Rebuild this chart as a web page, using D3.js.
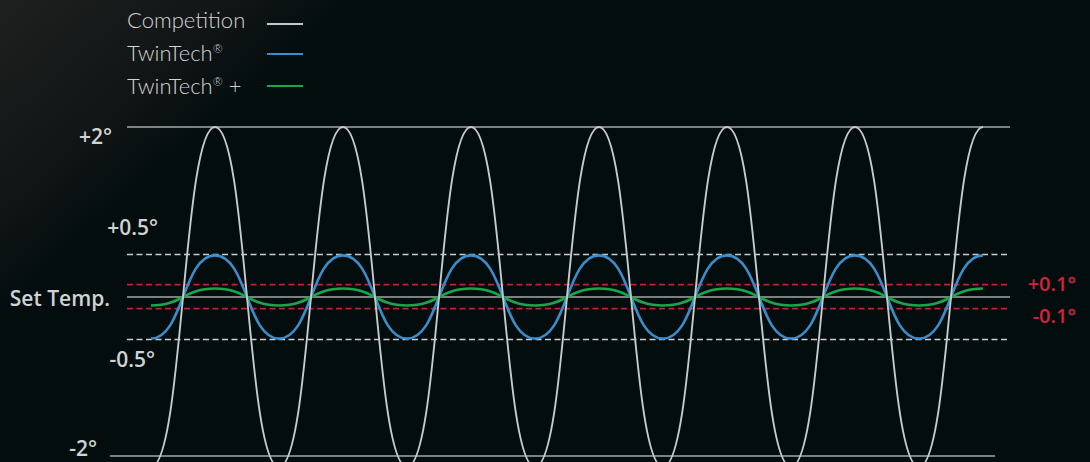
<!DOCTYPE html>
<html>
<head>
<meta charset="utf-8">
<script src="https://cdn.jsdelivr.net/npm/d3@7"></script>
<style>
  html, body { margin: 0; padding: 0; background: #030d0e; }
  svg { display: block; }
</style>
</head>
<body>
<svg id="chart" width="1090" height="462"></svg>
<script>
// time in cycles, one point per extreme (trough / peak)
const times = [0, 0.5, 1, 1.5, 2, 2.5, 3, 3.5, 4, 4.5, 5, 5.5, 6, 6.5]
const competition = [-2, 2, -2, 2, -2, 2, -2, 2, -2, 2, -2, 2, -2, 2]
const twinTech = [-0.49, 0.49, -0.49, 0.49, -0.49, 0.49, -0.49, 0.49, -0.49, 0.49, -0.49, 0.49, -0.49, 0.49]
const twinTechPlus = [-0.1, 0.1, -0.1, 0.1, -0.1, 0.1, -0.1, 0.1, -0.1, 0.1, -0.1, 0.1, -0.1, 0.1]

const seriesNames = ['Competition', 'TwinTech®', 'TwinTech® +']

// guide lines, values
const guideValues = [2, 0.5, 0.146, 0, -0.137, -0.5, -1.87]
const guideKinds = ['solid', 'dash', 'red', 'solid', 'red', 'dash', 'bottom']
const axisLabels = ['+2°', '+0.5°', 'Set Temp.', '-0.5°', '-2°']
const redLabels = ['+0.1°', '-0.1°']

const width = 1090
const height = 462
const plotLeft = 127
const plotRight = 1010

const svg = d3.select('#chart')

// soft glow in the top-left corner
const defs = svg.append('defs')
const grad = defs.append('linearGradient')
  .attr('id', 'glow')
  .attr('gradientUnits', 'userSpaceOnUse')
  .attr('x1', 0).attr('y1', 0)
  .attr('x2', 160).attr('y2', 180)
grad.append('stop').attr('offset', 0).attr('stop-color', '#1e2020')
grad.append('stop').attr('offset', 0.6).attr('stop-color', '#131616')
grad.append('stop').attr('offset', 1).attr('stop-color', '#030d0e')

svg.append('rect')
  .attr('width', width).attr('height', height)
  .attr('fill', 'url(#glow)')

const x = d3.scaleLinear([0, 6.5], [151, 983])
const y = d3.scaleLinear([-2, 2], [467, 127])

// guides
const guideStyle = {
  solid: {stroke: '#a4a9a9', dash: null},
  bottom: {stroke: '#a4a9a9', dash: null},
  dash: {stroke: '#c9cdcd', dash: '6,3.5'},
  red: {stroke: '#c41f3b', dash: '6,3.5'}
}
svg.append('g')
  .selectAll('line')
  .data(guideValues)
  .join('line')
  .attr('x1', (d, i) => guideKinds[i] === 'bottom' ? plotLeft - 17 : plotLeft)
  .attr('x2', (d, i) => guideKinds[i] === 'bottom' ? plotRight - 15 : plotRight)
  .attr('y1', d => y(d))
  .attr('y2', d => y(d))
  .attr('stroke', (d, i) => guideStyle[guideKinds[i]].stroke)
  .attr('stroke-width', 1.6)
  .attr('stroke-dasharray', (d, i) => guideStyle[guideKinds[i]].dash)

// curves
const line = d3.line()
  .x((d, i) => x(times[i]))
  .y(d => y(d))
  .curve(d3.curveBumpX)

svg.append('path')
  .attr('d', line(twinTech))
  .attr('fill', 'none')
  .attr('stroke', '#3b8dcb')
  .attr('stroke-width', 2.6)

svg.append('path')
  .attr('d', line(twinTechPlus))
  .attr('fill', 'none')
  .attr('stroke', '#17a64b')
  .attr('stroke-width', 2.6)

svg.append('path')
  .attr('d', line(competition))
  .attr('fill', 'none')
  .attr('stroke', '#c6caca')
  .attr('stroke-width', 1.9)

// left labels
const labelPos = [
  {x: 112, v: 2, dy: 17},
  {x: 158, v: 0.5, dy: -20},
  {x: 110, v: 0, dy: 9},
  {x: 155, v: -0.5, dy: 27},
  {x: 97, v: -1.87, dy: 0}
]
svg.append('g')
  .selectAll('text')
  .data(axisLabels)
  .join('text')
  .attr('x', (d, i) => labelPos[i].x)
  .attr('y', (d, i) => y(labelPos[i].v) + labelPos[i].dy)
  .attr('text-anchor', 'end')
  .attr('font-family', '"Open Sans", sans-serif')
  .attr('font-weight', 600)
  .attr('font-size', 21)
  .attr('fill', '#cfd3d3')
  .text(d => d)

// right red labels
svg.append('g')
  .selectAll('text')
  .data(redLabels)
  .join('text')
  .attr('x', 1076)
  .attr('y', (d, i) => i === 0 ? y(guideValues[2]) + 6 : y(guideValues[4]) + 14)
  .attr('text-anchor', 'end')
  .attr('font-family', '"Open Sans", sans-serif')
  .attr('font-weight', 600)
  .attr('font-size', 20)
  .attr('fill', '#d3223c')
  .text(d => d)

// legend
const legendColors = ['#c6caca', '#3b8dcb', '#17a64b']
const legendRowY = [28, 61, 94]
const legendLineY = [24, 54, 86]
const legend = svg.append('g')
seriesNames.forEach((name, i) => {
  const t = legend.append('text')
    .attr('x', 127)
    .attr('y', legendRowY[i])
    .attr('font-family', 'Lato, sans-serif')
    .attr('font-weight', 300)
    .attr('font-size', 22)
    .attr('fill', '#d0d4d4')
  const parts = name.split('®')
  t.append('tspan').text(parts[0])
  if (parts.length > 1) {
    t.append('tspan')
      .attr('font-size', 12)
      .attr('dy', -8)
      .text('®')
    t.append('tspan')
      .attr('dy', 8)
      .text(parts[1])
  }
  legend.append('line')
    .attr('x1', 267).attr('x2', 303)
    .attr('y1', legendLineY[i]).attr('y2', legendLineY[i])
    .attr('stroke', legendColors[i])
    .attr('stroke-width', 2)
})
</script>
</body>
</html>
